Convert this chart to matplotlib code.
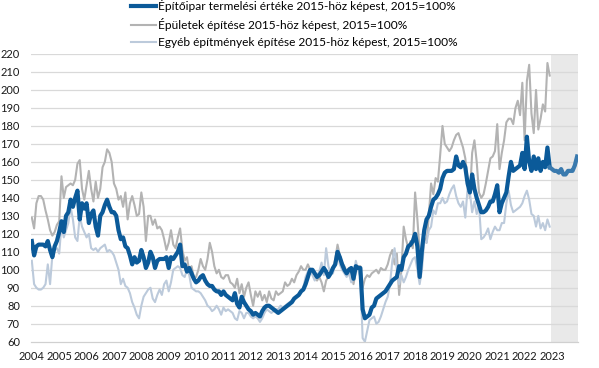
import numpy as np
import matplotlib
matplotlib.use("Agg")
import matplotlib.pyplot as plt
from matplotlib.lines import Line2D

plt.rcParams['font.family'] = ['Lato', 'DejaVu Sans']

# havi adatok, 2004 jan - 2023 dec (2023 = előrejelzés)
epitoipar = [
    116, 108, 113, 114, 114, 114, 113, 116, 111, 107, 113, 116,  # 2004
    121, 127, 121, 130, 132, 139, 135, 140, 144, 128, 137, 134,  # 2005
    137, 126, 131, 133, 124, 119, 130, 132, 136, 139, 135, 132,  # 2006
    132, 130, 122, 117, 118, 113, 112, 108, 103, 107, 104, 105,  # 2007
    111, 107, 101, 104, 110, 107, 101, 105, 106, 106, 106, 107,  # 2008
    101, 107, 106, 108, 110, 114, 102, 103, 99, 101, 98, 95,     # 2009
    93, 94, 96, 97, 94, 92, 91, 91, 89, 88, 88, 86,              # 2010
    88, 86, 85, 84, 83, 87, 81, 79, 85, 82, 80, 78,              # 2011
    77, 75, 76, 75, 74, 77, 79, 80, 80, 79, 78, 77,              # 2012
    76, 77, 78, 79, 80, 81, 82, 84, 85, 86, 88, 89,              # 2013
    92, 96, 100, 100, 98, 96, 97, 99, 101, 99, 96, 98,           # 2014
    101, 103, 110, 107, 103, 100, 98, 100, 101, 95, 102, 101,    # 2015
    101, 78, 73, 74, 75, 79, 80, 84, 85, 86, 87, 88,             # 2016
    90, 92, 94, 95, 96, 102, 100, 107, 109, 113, 114, 116,       # 2017
    120, 113, 96, 111, 122, 128, 130, 135, 139, 140, 142, 145,   # 2018
    151, 154, 155, 155, 155, 156, 163, 158, 157, 160, 157, 148,  # 2019
    143, 153, 145, 140, 136, 132, 132, 133, 135, 138, 138, 142,  # 2020
    147, 132, 137, 140, 143, 152, 160, 155, 156, 157, 158, 165,  # 2021
    156, 174, 160, 155, 163, 156, 162, 155, 160, 157, 168, 157,  # 2022
    156, 155, 155, 154, 156, 153, 153, 155, 155, 155, 158, 163,  # 2023
]

epuletek = [
    129, 123, 137, 141, 141, 139, 133, 128, 122, 119, 121, 125,
    127, 152, 140, 146, 147, 148, 147, 150, 159, 161, 145, 139,
    147, 155, 145, 138, 149, 140, 145, 157, 160, 167, 165, 160,
    148, 145, 139, 141, 135, 143, 128, 137, 141, 136, 130, 131,
    143, 135, 116, 130, 130, 125, 128, 123, 124, 122, 117, 111,
    115, 122, 114, 112, 118, 123, 111, 105, 107, 99, 102, 96,
    96, 100, 106, 102, 100, 106, 115, 110, 102, 98, 100, 96,
    95, 97, 97, 93, 92, 90, 95, 87, 92, 85, 90, 93,
    86, 80, 88, 85, 88, 83, 86, 82, 88, 84, 83, 88,
    86, 87, 88, 93, 91, 92, 95, 93, 97, 99, 102, 100,
    100, 103, 100, 99, 97, 94, 96, 93, 88, 94, 96, 98,
    100, 106, 114, 108, 104, 102, 99, 101, 99, 92, 99, 102,
    102, 90, 95, 97, 96, 98, 99, 100, 98, 101, 100, 100,
    103, 108, 111, 103, 109, 86, 100, 124, 117, 112, 116, 112,
    143, 128, 110, 104, 118, 115, 130, 148, 142, 151, 149, 164,
    180, 170, 168, 166, 168, 172, 175, 176, 172, 168, 162, 150,
    140, 165, 172, 160, 143, 140, 142, 148, 155, 162, 163, 166,
    181, 156, 165, 172, 182, 184, 184, 181, 190, 194, 186, 204,
    172, 205, 214, 187, 176, 200, 178, 184, 192, 188, 215, 208,
]

egyeb = [
    105, 92, 90, 89, 89, 90, 92, 103, 92, 108, 111, 112,
    109, 125, 118, 122, 126, 135, 128, 118, 116, 130, 124, 121,
    118, 120, 112, 111, 112, 110, 112, 113, 114, 110, 111, 110,
    108, 104, 100, 92, 95, 91, 90, 87, 82, 79, 75, 73,
    80, 85, 87, 89, 90, 84, 82, 86, 89, 86, 92, 94,
    88, 93, 100, 101, 102, 101, 97, 96, 100, 97, 90, 89,
    88, 88, 87, 85, 83, 80, 79, 77, 78, 80, 78, 75,
    79, 77, 78, 77, 76, 73, 72, 77, 76, 73, 76, 76,
    74, 73, 74, 73, 71, 73, 76, 78, 77, 76, 77, 78,
    78, 80, 79, 80, 81, 82, 83, 84, 85, 86, 87, 90,
    96, 99, 100, 97, 94, 97, 99, 104, 97, 112, 102, 98,
    98, 104, 111, 103, 100, 98, 96, 98, 93, 95, 105, 100,
    96, 62, 60, 66, 72, 73, 74, 70, 71, 74, 78, 82,
    85, 92, 105, 112, 100, 92, 97, 93, 96, 100, 103, 106,
    107, 100, 92, 100, 116, 115, 122, 124, 133, 131, 137, 137,
    140, 137, 138, 142, 145, 147, 141, 137, 135, 138, 129, 145,
    143, 132, 138, 131, 136, 117, 118, 120, 123, 117, 121, 124,
    122, 122, 126, 126, 137, 144, 136, 132, 133, 134, 135, 137,
    141, 144, 139, 131, 130, 124, 130, 123, 126, 122, 128, 124,
]

labels = [
    "Építőipar termelési értéke 2015-höz képest, 2015=100%",
    "Épületek építése 2015-höz képest, 2015=100%",
    "Egyéb építmények építése 2015-höz képest, 2015=100%",
]
years = list(range(2004, 2024))

t_main = 2004 + np.arange(len(epitoipar)) / 12
t_hist = 2004 + np.arange(len(epuletek)) / 12
n_hist = len(epuletek)

c_main = "#0b5a99"
c_fc = "#3a7aae"
c_gray = "#b3b3b3"
c_light = "#bccadb"

fig = plt.figure(figsize=(5.99, 3.68), dpi=100)
ax = fig.add_axes([31 / 599, 1 - 341.7 / 368, 547 / 599, 287.7 / 368])

ax.axvspan(2022.96, 2023.95, color="#e9e9e9", lw=0, zorder=0)
for v in range(70, 230, 10):
    ax.axhline(v, color="#d9d9d9", lw=0.9, zorder=1)

ax.plot(t_hist, epuletek, color=c_gray, lw=1.5, zorder=2)
ax.plot(t_hist, egyeb, color=c_light, lw=1.5, zorder=3)
ax.plot(t_main[:n_hist], epitoipar[:n_hist], color=c_main, lw=3.0,
        solid_joinstyle="round", zorder=4)
ax.plot(t_main[n_hist - 1:], epitoipar[n_hist - 1:], color=c_fc, lw=3.0,
        solid_joinstyle="round", zorder=4)

ax.set_xlim(2003.97, 2023.95)
ax.set_ylim(60, 220)
ax.set_yticks(range(60, 230, 10))
ax.set_xticks(years)
ax.set_xticklabels([str(y) for y in years])
ax.tick_params(axis="both", length=0, labelsize=8, colors="#1a1a1a")
ax.tick_params(axis="x", pad=7)
ax.tick_params(axis="y", pad=8)
for s in ["top", "right", "left"]:
    ax.spines[s].set_visible(False)
ax.spines["bottom"].set_color("#d0d0d0")
ax.spines["bottom"].set_linewidth(0.9)

handles = [
    Line2D([], [], color=c_main, lw=3.0),
    Line2D([], [], color=c_gray, lw=1.5),
    Line2D([], [], color=c_light, lw=1.5),
]
fig.legend(handles, labels, loc="upper left", bbox_to_anchor=(123 / 599, 1.025),
           frameon=False, fontsize=8.6, handlelength=2.1, handletextpad=0.15,
           labelspacing=0.5, borderpad=0.2)

fig.savefig("out.png", dpi=100)
